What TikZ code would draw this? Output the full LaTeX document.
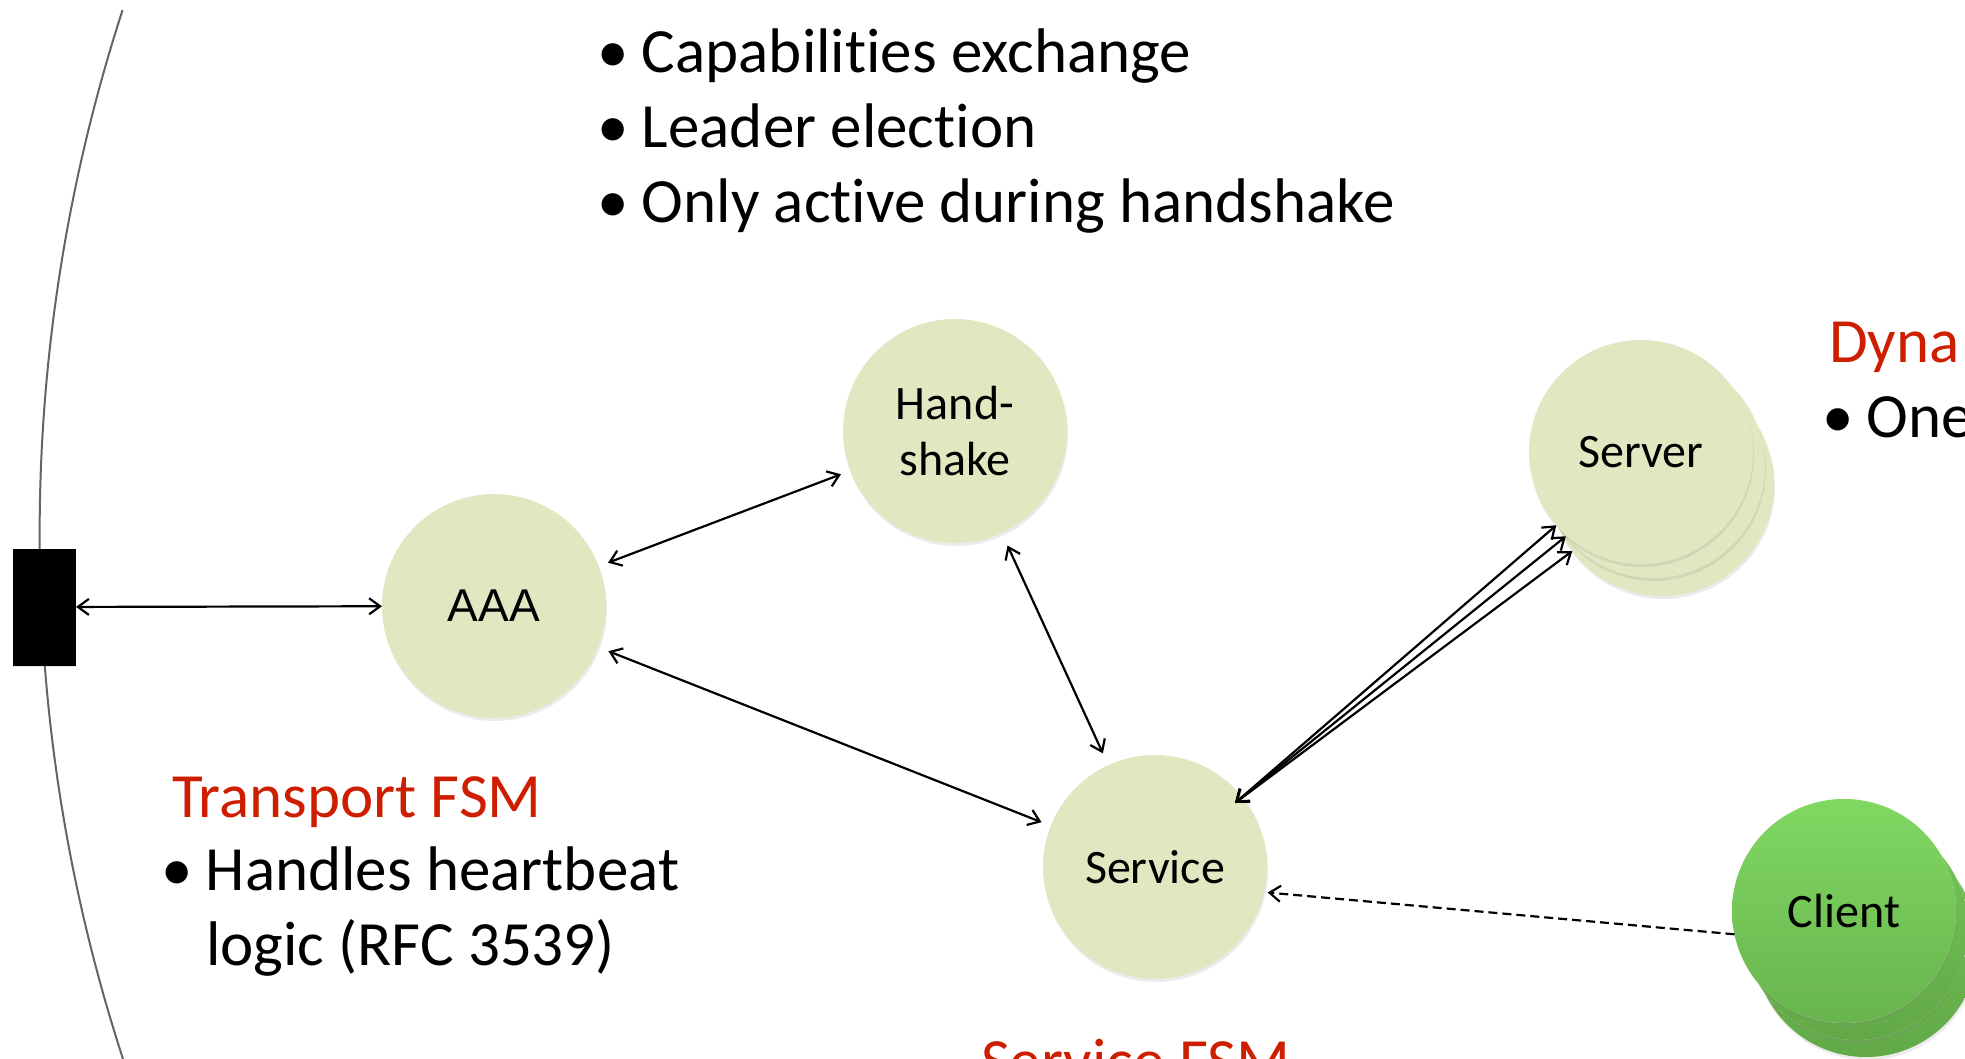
\documentclass[tikz,border=0pt]{standalone}
\usepackage{fontspec}
\setmainfont[Ligatures=NoCommon]{Carlito}
\newfontfamily\arialfam{Liberation Sans}
\usetikzlibrary{arrows.meta,shadows}
\definecolor{nodefill}{RGB}{223,232,193}
\definecolor{fsmred}{RGB}{206,30,0}
\definecolor{clitop}{RGB}{128,216,98}
\definecolor{clibot}{RGB}{104,180,78}
\definecolor{clibacktop}{RGB}{116,200,88}
\definecolor{clibackbot}{RGB}{98,168,72}
\definecolor{arcgray}{RGB}{100,100,100}
\newcommand\bigtxt{\fontsize{63}{75}\selectfont}
\newcommand\nodetxt{\fontsize{48}{56}\selectfont}
\newcommand\bul{\llap{•\hspace{13pt}}}
\begin{document}
\begin{tikzpicture}[x=1pt,y=-1pt,
  nshadow/.style={drop shadow={shadow xshift=1pt, shadow yshift=-3pt, opacity=0.16}},
  fsm/.style={circle, fill=nodefill, minimum size=224pt, inner sep=0pt, outer sep=0pt, font=\nodetxt, align=center, nshadow},
  clinode/.style={fsm, top color=clitop, bottom color=clibot},
  cliback/.style={fsm, top color=clibacktop, bottom color=clibackbot},
  tipb/.tip={Straight Barb[length=11pt,width=16pt]},
  conn/.style={line width=2.2pt, tipb-tipb},
  dashconn/.style={line width=2.2pt, dash pattern=on 9pt off 5pt, -tipb},
  txt/.style={anchor=base west, inner sep=0pt, outer sep=0pt, font=\bigtxt},
]
\useasboundingbox (0,0) rectangle (1965,1058);
\clip (0,0) rectangle (1965,1058);

% boundary arc
\draw[arcgray, line width=2pt] ([shift={(161.5:1695)}]1734.6,534) arc[start angle=161.5, end angle=198, radius=1695];

% port square
\node[fill=black, minimum width=63pt, minimum height=117pt, inner sep=0pt, outer sep=0pt,
      drop shadow={shadow xshift=0pt, shadow yshift=-1pt, opacity=0.2}] (sq) at (44.5,607) {};

% state machines
\node[fsm] (aaa) at (494,606) {\arialfam\fontsize{46}{50}\selectfont AAA};
\node[fsm] (hs) at (955,431) {Hand-\\shake};
\node[fsm] (svc) at (1155,867) {Service};
\node[fsm] (srv3) at (1662,484) {};
\node[fsm] (srv2) at (1653,466) {};
\node[fsm] (srv1) at (1641,452) {Server};
\node[cliback] (cli3) at (1866,945) {};
\node[cliback] (cli2) at (1856,928) {};
\node[clinode] (cli1) at (1844,911) {Client};

% connectors
\draw[conn] (sq) -- (aaa);
\draw[conn, shorten <=10pt, shorten >=10pt] (aaa) -- (hs);
\draw[conn, shorten <=11pt, shorten >=10pt] (aaa) -- (svc);
\draw[conn, shorten <=14pt, shorten >=13pt] (hs) -- (svc);
\coordinate (svp) at (1235,803);
\draw[conn] (svp) -- (srv1);
\draw[conn] (svp) -- (srv2);
\draw[conn] (svp) -- (srv3);
\draw[dashconn, shorten >=3.5pt] (cli1.192) -- (svc.347.5);

% texts
\node[txt] (t1) at (642,72) {\bul Capabilities exchange};
\node[txt] (t2) at (642,147) {\bul Leader election};
\node[txt] (t3) at (642,222) {\bul Only active during handshake};
\node[txt, text=fsmred] (tfsm) at (172,817) {Transport FSM};
\node[txt] (tf1) at (206,890) {\bul Handles heartbeat};
\node[txt] (tf2) at (206,965) {logic (RFC 3539)};
\node[txt, text=fsmred] (sfsm) at (981,1082) {Service FSM};
\node[txt, text=fsmred] (dyn) at (1829,362) {Dyna};
\node[txt] (one) at (1867,437) {\bul One};
\end{tikzpicture}
\end{document}
